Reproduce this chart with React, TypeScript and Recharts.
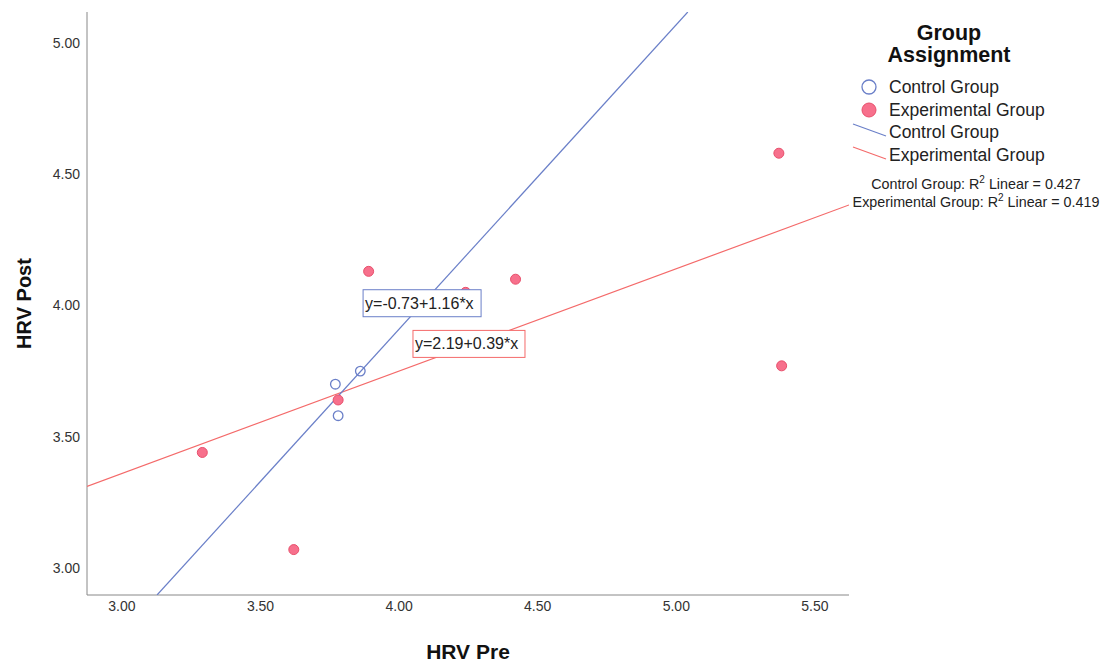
import {
  ScatterChart,
  Scatter,
  XAxis,
  YAxis,
  ReferenceDot,
} from "recharts";

// HRV Pre (x) / HRV Post (y)
const controlPre = [3.77, 3.86, 3.78];
const controlPost = [3.70, 3.75, 3.58];

const expPre = [3.29, 3.62, 3.78, 3.89, 4.24, 4.42, 5.37, 5.38];
const expPost = [3.44, 3.07, 3.64, 4.13, 4.05, 4.10, 4.58, 3.77];

// fit lines: y = a + b*x
const controlFit = { a: -0.73, b: 1.16, r2: 0.427 };
const expFit = { a: 2.19, b: 0.39, r2: 0.419 };

const xTicks = [3.0, 3.5, 4.0, 4.5, 5.0, 5.5];
const yTicks = [3.0, 3.5, 4.0, 4.5, 5.0];
const xDomain = [2.874, 5.623];
const yDomain = [2.897, 5.118];

const BLUE = "#6a7fc8";
const PINK = "#f7708c";
const PINK_EDGE = "#e8506c";
const RED_LINE = "#f46a6a";
const FONT = "'Liberation Sans', Arial, sans-serif";

const controlData = controlPre.map((x, i) => ({ x, y: controlPost[i] }));
const expData = expPre.map((x, i) => ({ x, y: expPost[i] }));

// endpoints of a fit line, clipped to the plot box
function fitSegment(f: { a: number; b: number }) {
  const xAtLow = (yDomain[0] - f.a) / f.b;
  const xAtHigh = (yDomain[1] - f.a) / f.b;
  const x0 = Math.max(xDomain[0], Math.min(xAtLow, xAtHigh));
  const x1 = Math.min(xDomain[1], Math.max(xAtLow, xAtHigh));
  return [
    { x: x0, y: f.a + f.b * x0 },
    { x: x1, y: f.a + f.b * x1 },
  ];
}

const fmt = (v: number) => v.toFixed(2);

function EqBox(props: any) {
  const { cx, cy, text, color, w } = props;
  return (
    <g>
      <rect x={cx} y={cy} width={w} height={27} fill="#fff" stroke={color} strokeWidth={1} />
      <text x={cx + 2} y={cy + 19} fontSize={16} fontFamily={FONT} fill="#222">
        {text}
      </text>
    </g>
  );
}

const noShape = () => <g />;

export default function App() {
  return (
    <div style={{ position: "absolute", left: 0, top: 0, width: 1105, height: 665, background: "#fff" }}>
      <ScatterChart
        width={1105}
        height={665}
        margin={{ top: 12, right: 256, bottom: 40, left: 27 }}
      >
        <XAxis
          type="number"
          dataKey="x"
          domain={xDomain}
          ticks={xTicks}
          tickFormatter={fmt}
          allowDataOverflow
          tickLine={false}
          tickSize={0}
          tickMargin={6}
          height={30}
          stroke="#888"
          tick={{ fill: "#333", fontSize: 14, fontFamily: FONT }}
          label={{
            content: (p: any) => (
              <text
                x={p.viewBox.x + p.viewBox.width / 2}
                y={p.viewBox.y + 64}
                textAnchor="middle"
                fontSize={21}
                fontWeight="bold"
                fontFamily={FONT}
                fill="#111"
              >
                HRV Pre
              </text>
            ),
          }}
        />
        <YAxis
          type="number"
          dataKey="y"
          domain={yDomain}
          ticks={yTicks}
          tickFormatter={fmt}
          allowDataOverflow
          tickLine={false}
          tickSize={0}
          tickMargin={7}
          width={60}
          stroke="#888"
          tick={{ fill: "#333", fontSize: 14, fontFamily: FONT }}
          label={{
            content: (p: any) => (
              <text
                x={31}
                y={p.viewBox.y + p.viewBox.height / 2}
                transform={`rotate(-90 31 ${p.viewBox.y + p.viewBox.height / 2})`}
                textAnchor="middle"
                fontSize={20}
                fontWeight="bold"
                fontFamily={FONT}
                fill="#111"
              >
                HRV Post
              </text>
            ),
          }}
        />
        <Scatter
          data={fitSegment(expFit)}
          line={{ stroke: RED_LINE, strokeWidth: 1.2 }}
          shape={noShape}
          isAnimationActive={false}
        />
        <Scatter
          data={fitSegment(controlFit)}
          line={{ stroke: BLUE, strokeWidth: 1.2 }}
          shape={noShape}
          isAnimationActive={false}
        />
        <Scatter
          data={expData}
          shape={(p: any) => <circle cx={p.cx} cy={p.cy} r={5} fill={PINK} stroke={PINK_EDGE} />}
          isAnimationActive={false}
        />
        <Scatter
          data={controlData}
          shape={(p: any) => <circle cx={p.cx} cy={p.cy} r={4.8} fill="none" stroke={BLUE} strokeWidth={1.3} />}
          isAnimationActive={false}
        />
        <ReferenceDot
          x={3.87}
          y={4.06}
          r={0}
          shape={(p: any) => (
            <EqBox cx={p.cx} cy={p.cy} w={118} color={BLUE} text={`y=${controlFit.a.toFixed(2)}+${controlFit.b.toFixed(2)}*x`} />
          )}
        />
        <ReferenceDot
          x={4.05}
          y={3.905}
          r={0}
          shape={(p: any) => (
            <EqBox cx={p.cx} cy={p.cy} w={112} color={RED_LINE} text={`y=${expFit.a.toFixed(2)}+${expFit.b.toFixed(2)}*x`} />
          )}
        />
      </ScatterChart>

      <div style={{ position: "absolute", left: 859, top: 22, width: 180, textAlign: "center", fontFamily: FONT, fontWeight: "bold", fontSize: 21.5, lineHeight: "22px", color: "#111" }}>
        Group
        <br />
        Assignment
      </div>
      <svg style={{ position: "absolute", left: 850, top: 76 }} width={255} height={140}>
        <g fontFamily={FONT} fontSize={17.5} fill="#222">
          <circle cx={19} cy={11} r={7} fill="none" stroke={BLUE} strokeWidth={1.3} />
          <text x={39} y={17}>Control Group</text>
          <circle cx={19} cy={34} r={7} fill={PINK} stroke={PINK_EDGE} />
          <text x={39} y={40}>Experimental Group</text>
          <line x1={3} y1={48} x2={36} y2={60} stroke={BLUE} strokeWidth={1.2} />
          <text x={39} y={62}>Control Group</text>
          <line x1={3} y1={71} x2={36} y2={83} stroke={RED_LINE} strokeWidth={1.2} />
          <text x={39} y={85}>Experimental Group</text>
        </g>
        <g fontFamily={FONT} fontSize={14.3} fill="#222" textAnchor="middle">
          <text x={126} y={113}>
            Control Group: R<tspan dy={-6} fontSize={10}>2</tspan>
            <tspan dy={6}> Linear = {controlFit.r2.toFixed(3)}</tspan>
          </text>
          <text x={126} y={131}>
            Experimental Group: R<tspan dy={-6} fontSize={10}>2</tspan>
            <tspan dy={6}> Linear = {expFit.r2.toFixed(3)}</tspan>
          </text>
        </g>
      </svg>
    </div>
  );
}
